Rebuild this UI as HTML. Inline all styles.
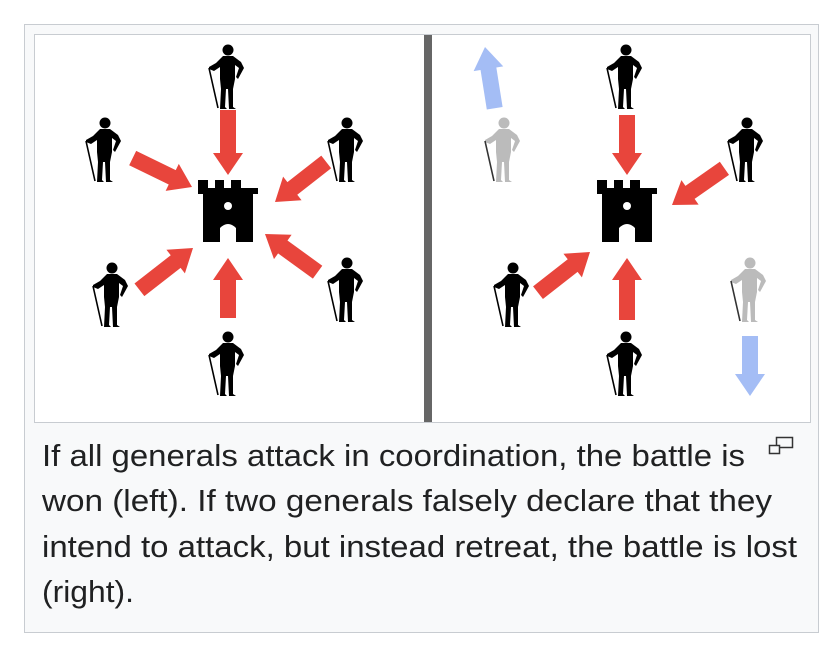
<!DOCTYPE html>
<html><head><style>
html,body{margin:0;padding:0;background:#fff;width:836px;height:656px;overflow:hidden}
.box{position:absolute;left:24px;top:24px;width:795px;height:609px;background:#f8f9fa;border:1px solid #c8ccd1;box-sizing:border-box}
.img{position:absolute;left:34px;top:34px;width:777px;height:389px;background:#fff;border:1px solid #c8ccd1;box-sizing:border-box}
</style></head><body>
<div class="box"></div>
<div class="img"></div>
<svg style="position:absolute;left:0;top:0" width="836" height="656">
<defs>
<g id="k">
<circle cx="2" cy="-27" r="5.5"/>
<path d="M-3,-21 L7,-21 L15,-15 L18,-9 L12,2 L10,0 L13,-9 L9,-12 L9,2 L7,12 L7,30 L10,32 L3,32 L2,12 L0,12 L-1,30 L1,32 L-6,32 L-5,12 L-6,2 L-6,-10 L-12,-6 L-17,-8 L-17,-10 L-10,-14 Z"/>
<path d="M-17,-9 L-8,31" stroke="#000" stroke-width="1.6" fill="none"/>
</g>
<g id="c">
<path d="M0,0 L10,0 L10,8 L17,8 L17,0 L26,0 L26,8 L33,8 L33,0 L43,0 L43,8 L60,8 L60,0 L60,14 L55,14 L55,62 L38,62 L38,48 Q30,40 22,48 L22,62 L5,62 L5,14 L0,14 Z"/>
<circle cx="30" cy="26" r="4" fill="#fff"/>
</g>
</defs>
<rect x="424" y="35" width="8" height="387" fill="#666"/>
<g fill="#000">
<use href="#k" x="226" y="77"/><use href="#k" x="103" y="150"/><use href="#k" x="345" y="150"/>
<use href="#k" x="110" y="295"/><use href="#k" x="345" y="290"/><use href="#k" x="226" y="364"/>
<use href="#k" x="624" y="77"/><use href="#k" x="745" y="150"/><use href="#k" x="511" y="295"/><use href="#k" x="624" y="364"/>
</g>
<g fill="#aaa" opacity="0.8"><use href="#k" x="502" y="150"/><use href="#k" x="748" y="290"/></g>
<g fill="#000"><use href="#c" x="198" y="180"/><use href="#c" x="597" y="180"/></g>
<g fill="#e8453c">
<polygon transform="translate(228,175) rotate(90)" points="0,0 -22,-15 -22,-8 -65,-8 -65,8 -22,8 -22,15"/>
<polygon transform="translate(192,187) rotate(26)" points="0,0 -22,-15 -22,-8 -66,-8 -66,8 -22,8 -22,15"/>
<polygon transform="translate(275,202) rotate(142)" points="0,0 -22,-15 -22,-8 -65,-8 -65,8 -22,8 -22,15"/>
<polygon transform="translate(193,248) rotate(-38)" points="0,0 -22,-15 -22,-8 -68,-8 -68,8 -22,8 -22,15"/>
<polygon transform="translate(265,234) rotate(216)" points="0,0 -22,-15 -22,-8 -65,-8 -65,8 -22,8 -22,15"/>
<polygon transform="translate(228,258) rotate(-90)" points="0,0 -22,-15 -22,-8 -60,-8 -60,8 -22,8 -22,15"/>
<polygon transform="translate(627,175) rotate(90)" points="0,0 -22,-15 -22,-8 -60,-8 -60,8 -22,8 -22,15"/>
<polygon transform="translate(672,205) rotate(145)" points="0,0 -22,-15 -22,-8 -64,-8 -64,8 -22,8 -22,15"/>
<polygon transform="translate(590,252) rotate(-38)" points="0,0 -22,-15 -22,-8 -66,-8 -66,8 -22,8 -22,15"/>
<polygon transform="translate(627,258) rotate(-90)" points="0,0 -22,-15 -22,-8 -62,-8 -62,8 -22,8 -22,15"/>
</g>
<g fill="#a4bdf5">
<polygon transform="translate(485,47) rotate(-99)" points="0,0 -22,-15 -22,-8 -62,-8 -62,8 -22,8 -22,15"/>
<polygon transform="translate(750,396) rotate(90)" points="0,0 -22,-15 -22,-8 -60,-8 -60,8 -22,8 -22,15"/>
</g>
<g fill="#f8f9fa" stroke="#333" stroke-width="1.5">
<rect x="776.5" y="437.5" width="16" height="10"/>
<rect x="769.5" y="445.5" width="10" height="8"/>
</g>
<g font-family="Liberation Sans, Arial, sans-serif" font-size="31" fill="#202122">
<text x="42" y="466" textLength="703" lengthAdjust="spacingAndGlyphs">If all generals attack in coordination, the battle is</text>
<text x="42" y="511" textLength="730" lengthAdjust="spacingAndGlyphs">won (left). If two generals falsely declare that they</text>
<text x="42" y="557" textLength="755" lengthAdjust="spacingAndGlyphs">intend to attack, but instead retreat, the battle is lost</text>
<text x="42" y="602" textLength="92" lengthAdjust="spacingAndGlyphs">(right).</text>
</g>
</svg>
</body></html>
